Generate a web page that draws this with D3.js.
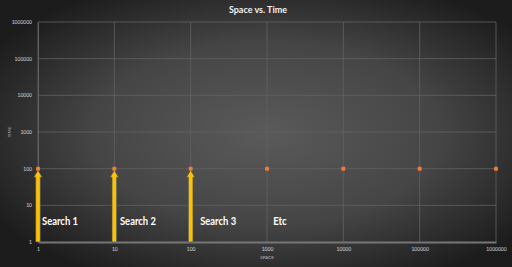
<!DOCTYPE html>
<html>
<head>
<meta charset="utf-8">
<script src="https://cdn.jsdelivr.net/npm/d3@7"></script>
<style>
  html, body { margin: 0; padding: 0; background: #2a2a2a; }
  svg { display: block; }
</style>
</head>
<body>
<svg id="chart" width="512" height="267"></svg>
<script>
// Space (x) and time (y) values, both on log scales
const spaceValues = [1, 10, 100, 1000, 10000, 100000, 1000000];
const timeValues  = [100, 100, 100, 100, 100, 100, 100];
const xTicks = [1, 10, 100, 1000, 10000, 100000, 1000000];
const yTicks = [1, 10, 100, 1000, 10000, 100000, 1000000];
// Arrow annotations: from time 1 up to time 100 at these spaces
const arrowSpaces = [1, 10, 100];
const arrowFrom = 1;
const arrowTo = 100;
// Text notes placed at (space, time)
const noteTexts  = ["Search 1", "Search 2", "Search 3", "Etc"];
const noteSpaces = [1, 10.5, 118, 1070];
const noteTime = 2.9;

const W = 512, H = 267;
const margin = { left: 38, right: 16, top: 22, bottom: 25 };

const svg = d3.select("#chart");
const defs = svg.append("defs");
const grad = defs.append("radialGradient")
  .attr("id", "bg").attr("cx", "52%").attr("cy", "50%").attr("r", "62%");
grad.append("stop").attr("offset", "0%").attr("stop-color", "#5a5a5a");
grad.append("stop").attr("offset", "55%").attr("stop-color", "#454545");
grad.append("stop").attr("offset", "100%").attr("stop-color", "#1c1c1c");
svg.append("rect").attr("width", W).attr("height", H).attr("fill", "url(#bg)");

const x = d3.scaleLog().domain([1, 1000000]).range([margin.left, W - margin.right]);
const y = d3.scaleLog().domain([1, 1000000]).range([H - margin.bottom, margin.top]);

// Gridlines
const grid = svg.append("g");
grid.selectAll("line.h").data(yTicks.slice(1)).join("line")
  .attr("x1", margin.left).attr("x2", W - margin.right)
  .attr("y1", d => y(d)).attr("y2", d => y(d))
  .attr("stroke", "#626262").attr("stroke-width", 0.8);
grid.selectAll("line.v").data(xTicks).join("line")
  .attr("x1", d => x(d)).attr("x2", d => x(d))
  .attr("y1", margin.top).attr("y2", H - margin.bottom)
  .attr("stroke", "#626262").attr("stroke-width", 0.8);

// Axes
const fmt = d => String(d);
const xAxis = svg.append("g")
  .attr("transform", `translate(0,${H - margin.bottom})`)
  .call(d3.axisBottom(x).tickValues(xTicks).tickFormat(fmt).tickSize(0).tickPadding(5));
xAxis.select(".domain").attr("stroke", "#767676").attr("stroke-width", 1.8);
const yAxis = svg.append("g")
  .attr("transform", `translate(${margin.left},0)`)
  .call(d3.axisLeft(y).tickValues(yTicks).tickFormat(fmt).tickSize(0).tickPadding(6));
yAxis.select(".domain").attr("stroke", "#6a6a6a").attr("stroke-width", 0.8);
svg.selectAll(".tick text")
  .attr("fill", "#d9d9d9").attr("font-family", "Lato, sans-serif").attr("font-size", 5);

// Axis titles and chart title
svg.append("text").text("SPACE")
  .attr("x", x(1000)).attr("y", 259).attr("text-anchor", "middle")
  .attr("fill", "#bfbfbf").attr("font-family", "Lato, sans-serif").attr("font-size", 4.5);
svg.append("text").text("TIME")
  .attr("transform", `translate(11,${y(1000)}) rotate(-90)`).attr("text-anchor", "middle")
  .attr("fill", "#bfbfbf").attr("font-family", "Lato, sans-serif").attr("font-size", 4.5);
svg.append("text").text("Space vs. Time")
  .attr("x", 258).attr("y", 13).attr("text-anchor", "middle")
  .attr("fill", "#f2f2f2").attr("font-family", "Lato, sans-serif")
  .attr("font-weight", "bold").attr("font-size", 9);

// Arrows
const arrows = svg.append("g");
arrowSpaces.forEach(s => {
  const cx = x(s), yb = y(arrowFrom), yt = y(arrowTo) + 1.5;
  const headH = 7, bodyW = 2.3, headW = 4.2;
  const pts = [
    [cx - bodyW, yb], [cx - bodyW, yt + headH], [cx - headW, yt + headH],
    [cx, yt], [cx + headW, yt + headH], [cx + bodyW, yt + headH], [cx + bodyW, yb]
  ];
  arrows.append("path")
    .attr("d", d3.line()(pts) + "Z")
    .attr("fill", "#ffc000").attr("stroke", "#2f4f8a").attr("stroke-width", 0.6);
});

// Data points
svg.append("g").selectAll("rect").data(spaceValues).join("rect")
  .attr("x", (d, i) => x(d) - 2).attr("y", (d, i) => y(timeValues[i]) - 2)
  .attr("width", 4).attr("height", 4).attr("rx", 1)
  .attr("fill", "#ed7d31");

// Notes
svg.append("g").selectAll("text").data(noteTexts).join("text")
  .text(d => d)
  .attr("x", (d, i) => x(noteSpaces[i]) + 4)
  .attr("y", y(noteTime))
  .attr("fill", "#ffffff").attr("font-family", "Lato, sans-serif")
  .attr("font-weight", "bold").attr("font-size", 10.5)
  .attr("textLength", d => d.length * 4.5).attr("lengthAdjust", "spacingAndGlyphs");
</script>
</body>
</html>
